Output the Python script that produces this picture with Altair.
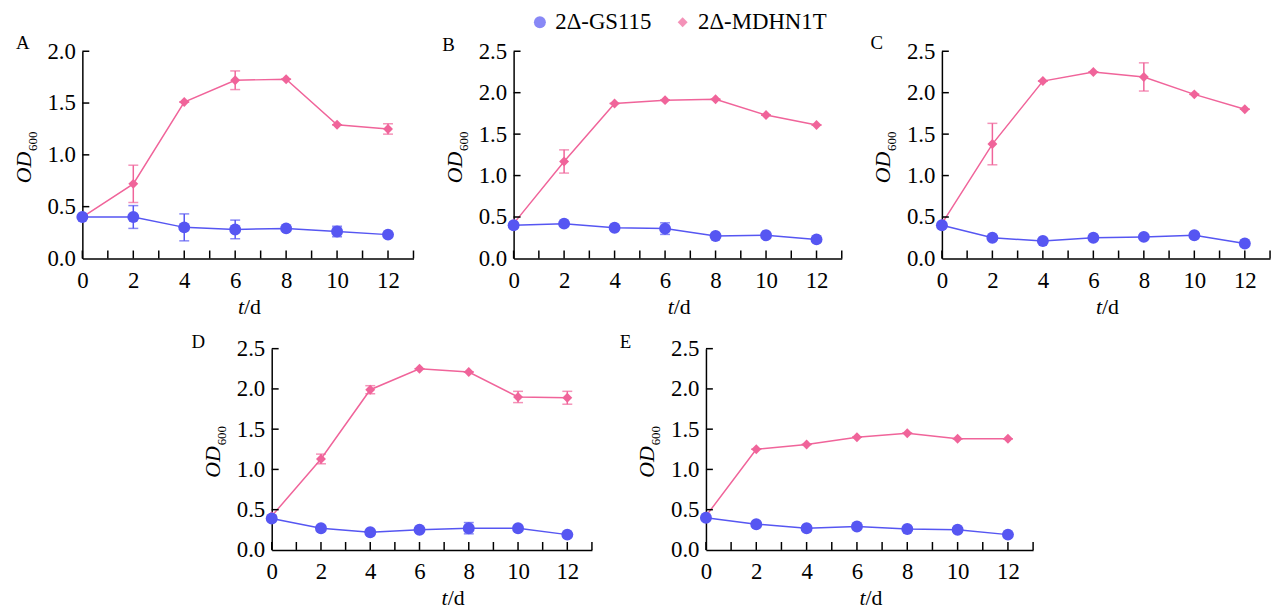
import altair as alt
import pandas as pd

FONT = "Liberation Serif"
BLUE = "#5656f2"
PINK = "#f0649a"
SERIES = ["2Δ-GS115", "2Δ-MDHN1T"]

t_days = [0, 2, 4, 6, 8, 10, 12]

A_gs = [0.40, 0.40, 0.30, 0.28, 0.29, 0.26, 0.23]
A_gs_err = [0.0, 0.11, 0.13, 0.09, 0.0, 0.05, 0.0]
A_md = [0.40, 0.72, 1.51, 1.72, 1.73, 1.29, 1.25]
A_md_err = [0.0, 0.18, 0.0, 0.09, 0.0, 0.0, 0.05]

B_gs = [0.40, 0.42, 0.37, 0.36, 0.27, 0.28, 0.23]
B_gs_err = [0.0, 0.0, 0.0, 0.07, 0.0, 0.0, 0.0]
B_md = [0.42, 1.17, 1.87, 1.91, 1.92, 1.73, 1.61]
B_md_err = [0.0, 0.14, 0.0, 0.0, 0.0, 0.0, 0.0]

C_gs = [0.40, 0.25, 0.21, 0.25, 0.26, 0.28, 0.18]
C_gs_err = [0.0, 0.0, 0.0, 0.0, 0.0, 0.0, 0.0]
C_md = [0.42, 1.38, 2.14, 2.25, 2.19, 1.98, 1.80]
C_md_err = [0.0, 0.25, 0.0, 0.0, 0.17, 0.0, 0.0]

D_gs = [0.39, 0.27, 0.22, 0.25, 0.27, 0.27, 0.19]
D_gs_err = [0.0, 0.0, 0.0, 0.0, 0.07, 0.0, 0.0]
D_md = [0.42, 1.13, 1.99, 2.25, 2.21, 1.90, 1.89]
D_md_err = [0.0, 0.06, 0.05, 0.0, 0.0, 0.07, 0.08]

E_gs = [0.40, 0.32, 0.27, 0.29, 0.26, 0.25, 0.19]
E_gs_err = [0.0, 0.0, 0.0, 0.0, 0.0, 0.0, 0.0]
E_md = [0.42, 1.25, 1.31, 1.40, 1.45, 1.38, 1.38]
E_md_err = [0.0, 0.0, 0.0, 0.0, 0.0, 0.0, 0.0]

x_tick_vals = list(range(0, 14))
x_label_vals = [0, 2, 4, 6, 8, 10, 12]


def panel(letter, gs, gs_err, md, md_err, ymax, w, h, let_dx, let_dy, td_dx):
    rows = []
    for name, vals, errs in [(SERIES[1], md, md_err), (SERIES[0], gs, gs_err)]:
        for t, v, e in zip(t_days, vals, errs):
            rows.append({"t": t, "od": v, "lo": v - e, "hi": v + e, "series": name})
    df = pd.DataFrame(rows)

    yvals = [round(i * 0.5, 1) for i in range(int(ymax / 0.5) + 1)]
    xscale = alt.Scale(domain=[0, 13], nice=False, zero=False)
    yscale = alt.Scale(domain=[0, ymax], nice=False, zero=True)
    xaxis = alt.Axis(values=x_label_vals, title=None, ticks=False, tickSize=0,
                     labelPadding=11, grid=False, labelFlush=False)
    yaxis = alt.Axis(values=yvals, format=".1f", title=None, ticks=False, tickSize=0,
                     labelPadding=7, grid=False, labelFlush=False)
    leg = alt.Legend(title=None, orient="none", direction="horizontal", legendX=450, legendY=-41)
    color = alt.Color("series:N", scale=alt.Scale(domain=SERIES, range=[BLUE, PINK]), legend=leg)
    shape = alt.Shape("series:N", scale=alt.Scale(domain=SERIES, range=["circle", "diamond"]), legend=leg)
    size = alt.Size("series:N", scale=alt.Scale(domain=SERIES, range=[145, 100]), legend=None)

    X = alt.X("t:Q", scale=xscale, axis=xaxis)
    base = alt.Chart(df)

    line = base.mark_line(strokeWidth=1.5).encode(x=X, y=alt.Y("od:Q", scale=yscale, axis=yaxis),
                                                  color=color, detail="series:N")
    err = base.mark_rule(strokeWidth=1.5).encode(x=X, y=alt.Y("lo:Q", scale=yscale, axis=yaxis),
                                                 y2="hi:Q", color=color)
    cap_lo = base.mark_tick(orient="horizontal", size=10, thickness=1.5).encode(
        x=X, y=alt.Y("lo:Q", scale=yscale, axis=yaxis), color=color)
    cap_hi = base.mark_tick(orient="horizontal", size=10, thickness=1.5).encode(
        x=X, y=alt.Y("hi:Q", scale=yscale, axis=yaxis), color=color)
    pts = base.mark_point(filled=True, opacity=1).encode(
        x=X, y=alt.Y("od:Q", scale=yscale, axis=yaxis), color=color, shape=shape, size=size)

    xt = alt.Chart(pd.DataFrame({"t": x_tick_vals})).mark_rule(color="black", strokeWidth=1.5).encode(
        x=X, y=alt.value(h), y2=alt.value(h - 8))
    yt = alt.Chart(pd.DataFrame({"od": yvals[1:]})).mark_rule(color="black", strokeWidth=1.5).encode(
        y=alt.Y("od:Q", scale=yscale, axis=yaxis), x=alt.value(0), x2=alt.value(7))

    one = pd.DataFrame({"s": [letter]})
    let = alt.Chart(one).mark_text(font=FONT, fontSize=19, align="left", baseline="alphabetic",
                                   color="black").encode(text="s:N", x=alt.value(let_dx), y=alt.value(let_dy))
    od = alt.Chart(pd.DataFrame({"s": ["OD"]})).mark_text(
        font=FONT, fontSize=22, fontStyle="italic", align="right", baseline="alphabetic",
        angle=270, color="black").encode(text="s:N", x=alt.value(-52), y=alt.value(h / 2 - 3))
    sub = alt.Chart(pd.DataFrame({"s": ["600"]})).mark_text(
        font=FONT, fontSize=13, align="left", baseline="alphabetic", angle=270, dy=6, dx=1,
        color="black").encode(text="s:N", x=alt.value(-52), y=alt.value(h / 2 - 3))
    tt = alt.Chart(pd.DataFrame({"s": ["t"]})).mark_text(
        font=FONT, fontSize=22, fontStyle="italic", align="right", baseline="alphabetic",
        color="black").encode(text="s:N", x=alt.value(w / 2 - 4 + td_dx), y=alt.value(h + 56))
    dd = alt.Chart(pd.DataFrame({"s": ["/d"]})).mark_text(
        font=FONT, fontSize=22, align="left", baseline="alphabetic",
        color="black").encode(text="s:N", x=alt.value(w / 2 - 4 + td_dx), y=alt.value(h + 56))

    return alt.layer(line, err, cap_lo, cap_hi, pts, xt, yt, let, od, sub, tt, dd).properties(
        width=w, height=h)


pA = panel("A", A_gs, A_gs_err, A_md, A_md_err, 2.0, 334, 209, -67, -2, 0)
pB = panel("B", B_gs, B_gs_err, B_md, B_md_err, 2.5, 331, 209, -72, 0, 0)
pC = panel("C", C_gs, C_gs_err, C_md, C_md_err, 2.5, 331, 209, -72, -2, 0)
pD = panel("D", D_gs, D_gs_err, D_md, D_md_err, 2.5, 323, 203, -81, -1, 20)
pE = panel("E", E_gs, E_gs_err, E_md, E_md_err, 2.5, 330, 203, -87, -1, 0)

spacer = alt.Chart(pd.DataFrame({"a": [0]})).mark_rule(opacity=0).encode(
    x=alt.value(0), x2=alt.value(76), y=alt.value(0), y2=alt.value(203)
).properties(width=76, height=203)

row1 = alt.hconcat(pA, pB, pC, spacing=101, bounds="flush").resolve_scale(x="independent", y="independent")
row2 = alt.hconcat(spacer, pD, pE, spacing=115, bounds="flush").resolve_scale(x="independent", y="independent")

chart = alt.vconcat(row1, row2, spacing=15).resolve_scale(
    x="independent", y="independent").properties(
    padding={"left": 5, "top": 0, "right": 5, "bottom": 0}
).configure_view(stroke=None).configure_axis(
    domainColor="black", domainWidth=1.5, labelColor="black", labelFont=FONT, labelFontSize=23
).configure_legend(
    labelFont=FONT, labelFontSize=23, labelColor="black", symbolSize=110, columnPadding=20,
    padding=0, symbolStrokeWidth=0, labelOffset=4
)

chart.save("out.html", embed_options={"renderer": "svg", "actions": False})
